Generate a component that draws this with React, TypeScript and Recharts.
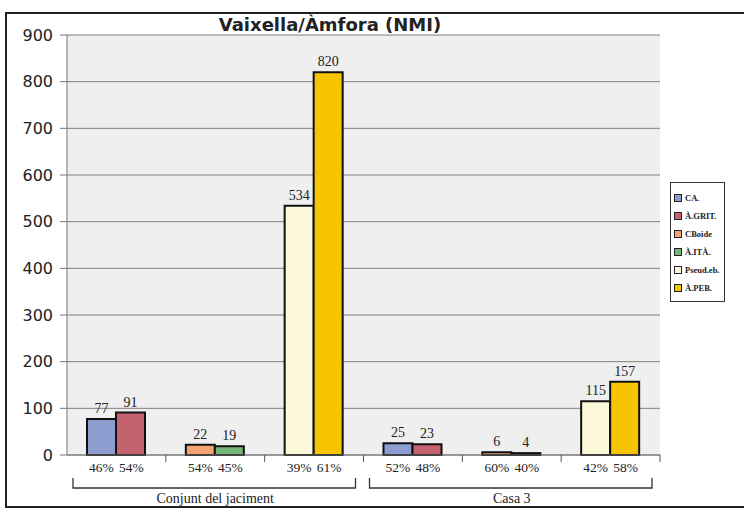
import React from "react";
import { Bar, BarChart, CartesianGrid, LabelList, Cell, XAxis, YAxis } from "recharts";

const categories = ["CA/À.GRIT", "CBoide/À.ITÀ", "Pseud/À.PEB", "CA/À.GRIT 3", "CBoide/À.ITÀ 3", "Pseud/À.PEB 3"];
const vaixella = [77, 22, 534, 25, 6, 115];
const amfora = [91, 19, 820, 23, 4, 157];
const vaixellaPct = ["46%", "54%", "39%", "52%", "60%", "42%"];
const amforaPct = ["54%", "45%", "61%", "48%", "40%", "58%"];
const groups = ["Conjunt del jaciment", "Casa 3"];
const yTicks = [0, 100, 200, 300, 400, 500, 600, 700, 800, 900];

const legendNames = ["CA.", "À.GRIT.", "CBoide", "À.ITÀ.", "Pseud.eb.", "À.PEB."];
const legendColors = ["#8d9dcf", "#c4626f", "#f3a472", "#74b474", "#fcf8da", "#f6c500"];

const leftColors = [legendColors[0], legendColors[2], legendColors[4], legendColors[0], legendColors[2], legendColors[4]];
const rightColors = [legendColors[1], legendColors[3], legendColors[5], legendColors[1], legendColors[3], legendColors[5]];

const data = categories.map((name, i) => ({ name, v: vaixella[i], a: amfora[i] }));

const serif = "'Liberation Serif', 'Times New Roman', serif";
const sans = "'DejaVu Sans', Verdana, sans-serif";

function PctTick(props: any) {
  const { x, y, payload, index } = props;
  const half = payload && payload.offset ? payload.offset : 49;
  const mid = index === 1 || index === 4;
  const g = index === 1 ? groups[0] : groups[1];
  return (
    <g>
      <line x1={x + half} x2={x + half} y1={y} y2={y + 7} stroke="#555" strokeWidth={1} />
      <text x={x - 15} y={y + 17} textAnchor="middle" fontFamily={serif} fontSize={13.5} fill="#222">
        {vaixellaPct[index]}
      </text>
      <text x={x + 15} y={y + 17} textAnchor="middle" fontFamily={serif} fontSize={13.5} fill="#222">
        {amforaPct[index]}
      </text>
      {mid ? (
        <g>
          <path
            d={`M${x - 3 * half + 6},${y + 23} V${y + 33} H${x + 3 * half - 8} V${y + 23}`}
            fill="none"
            stroke="#333"
            strokeWidth={1.3}
          />
          <text x={x} y={y + 48} textAnchor="middle" fontFamily={serif} fontSize={14} fill="#222">
            {g}
          </text>
        </g>
      ) : null}
    </g>
  );
}

function LegendBox() {
  return (
    <div
      style={{
        position: "absolute",
        left: 670,
        top: 182,
        border: "1px solid #333",
        width: 50,
        padding: "6px 0 4px 3px",
        background: "#fff",
        fontFamily: serif,
        fontWeight: 700,
        fontSize: 8.5,
        color: "#222",
      }}
    >
      {legendNames.map((n, i) => (
        <div key={n} style={{ display: "flex", alignItems: "center", height: 18, whiteSpace: "nowrap" }}>
          <span
            style={{
              display: "inline-block",
              width: 6,
              height: 6,
              border: "1px solid #222",
              background: legendColors[i],
              marginRight: 3,
              flexShrink: 0,
            }}
          />
          {n}
        </div>
      ))}
    </div>
  );
}

export default function App() {
  return (
    <div style={{ position: "absolute", left: 0, top: 0, width: 744, height: 514, background: "#fff", overflow: "hidden" }}>
      <div
        style={{
          position: "absolute",
          left: 5,
          top: 12,
          width: 780,
          height: 492,
          border: "2px solid #222",
        }}
      />
      <div style={{ position: "absolute", left: 0, top: 0 }}>
        <BarChart
          width={744}
          height={514}
          data={data}
          margin={{ top: 35, right: 84, bottom: 0, left: 0 }}
          barGap={0}
          barSize={29}
        >
          <CartesianGrid vertical={false} stroke="#808080" fill="#efefef" />
          <XAxis
            dataKey="name"
            height={59}
            tickSize={0}
            tickMargin={0}
            tickLine={false}
            axisLine={{ stroke: "#777" }}
            interval={0}
            tick={<PctTick />}
          />
          <YAxis
            width={67}
            domain={[0, 900]}
            ticks={yTicks}
            interval={0}
            tickSize={7}
            tickMargin={7}
            axisLine={{ stroke: "#777" }}
            tickLine={{ stroke: "#777" }}
            tick={{ fontFamily: sans, fontSize: 16, fill: "#222" }}
          />
          <Bar dataKey="v" stroke="#111" strokeWidth={2} isAnimationActive={false}>
            {data.map((d, i) => (
              <Cell key={d.name} fill={leftColors[i]} />
            ))}
            <LabelList dataKey="v" position="top" offset={6} style={{ fontFamily: serif, fontSize: 14, fill: "#222" }} />
          </Bar>
          <Bar dataKey="a" stroke="#111" strokeWidth={2} isAnimationActive={false}>
            {data.map((d, i) => (
              <Cell key={d.name} fill={rightColors[i]} />
            ))}
            <LabelList dataKey="a" position="top" offset={6} style={{ fontFamily: serif, fontSize: 14, fill: "#222" }} />
          </Bar>
        </BarChart>
      </div>
      <div
        style={{
          position: "absolute",
          left: 0,
          top: 15,
          width: 660,
          textAlign: "center",
          fontFamily: sans,
          fontWeight: 700,
          fontSize: 18,
          lineHeight: "20px",
          color: "#222",
        }}
      >
        Vaixella/Àmfora (NMI)
      </div>
      <LegendBox />
    </div>
  );
}
